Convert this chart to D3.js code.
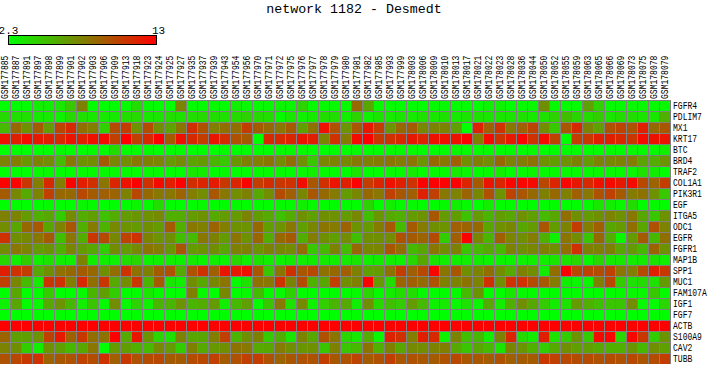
<!DOCTYPE html>
<html>
<head>
<meta charset="utf-8">
<script src="https://cdn.jsdelivr.net/npm/d3@7"></script>
<style>
  html, body { margin: 0; padding: 0; background: #fff; overflow: hidden; }
  text { font-family: "Liberation Mono", monospace; fill: #000; }
</style>
</head>
<body>
<div id="chart"></div>
<script>
/**
 * DATA
 * */
const title = "network 1182 - Desmedt";
const legendRange = [2.3, 13];
const legendLabels = ["2.3", "13"];

const samples = [
  "GSM177885","GSM177887","GSM177891","GSM177897","GSM177898","GSM177899","GSM177901","GSM177902","GSM177903","GSM177906","GSM177909",
  "GSM177913","GSM177918","GSM177923","GSM177924","GSM177925","GSM177927","GSM177935","GSM177937","GSM177939","GSM177943","GSM177954",
  "GSM177956","GSM177970","GSM177971","GSM177972","GSM177975","GSM177976","GSM177977","GSM177978","GSM177979","GSM177980","GSM177981",
  "GSM177982","GSM177985","GSM177993","GSM177999","GSM178003","GSM178006","GSM178009","GSM178010","GSM178013","GSM178017","GSM178021",
  "GSM178022","GSM178023","GSM178028","GSM178036","GSM178044","GSM178050","GSM178052","GSM178055","GSM178059","GSM178063","GSM178065",
  "GSM178066","GSM178069","GSM178073","GSM178075","GSM178078","GSM178079"
];

const genes = ["FGFR4","PDLIM7","MX1","KRT17","BTC","BRD4","TRAF2","COL1A1","PIK3R1","EGF","ITGA5","ODC1",
  "EGFR","FGFR1","MAP1B","SPP1","MUC1","FAM107A","IGF1","FGF7","ACTB","S100A9","CAV2","TUBB"];

// expression values per gene, one value for each sample
const FGFR4 = [2.3,2.4,2.4,3.0,3.0,3.3,4.6,7.6,2.4,2.3,2.4,2.5,3.8,2.5,2.4,2.3,7.4,2.4,2.5,2.5,2.4,3.0,
  2.6,2.5,2.6,2.8,2.7,4.2,2.5,2.5,2.6,2.5,8.6,6.0,2.5,2.4,2.4,2.4,2.4,2.5,2.6,2.4,2.4,
  2.4,2.9,2.9,2.4,2.5,2.6,7.0,2.5,2.4,2.4,6.2,4.2,2.5,2.5,2.6,2.6,2.5,2.6];
const PDLIM7 = [3.9,3.6,3.6,3.2,3.2,2.9,3.9,3.6,3.3,3.2,3.2,3.7,3.9,3.3,3.4,3.7,3.5,3.7,3.9,3.7,3.6,3.8,
  4.2,3.9,3.7,2.5,3.3,2.9,3.2,3.7,3.7,3.0,4.1,2.9,3.4,3.2,3.4,3.2,3.5,3.3,3.5,3.2,3.4,
  3.5,3.4,3.4,3.4,3.6,3.2,3.5,4.2,5.0,4.1,3.8,4.4,3.4,3.7,3.7,3.4,3.3,5.6];
const MX1 = [5.2,8.6,6.9,9.2,6.5,10.2,11.3,8.4,7.7,4.3,9.8,10.5,6.9,9.8,7.1,6.1,8.1,11.1,9.6,7.7,8.4,8.4,
  10.5,9.2,8.6,8.0,9.2,6.3,8.2,12.3,9.6,6.8,9.4,12.0,10.5,6.8,8.6,9.2,7.3,7.5,7.5,6.3,2.3,
  11.6,9.0,10.9,8.0,9.0,10.2,7.1,4.6,9.4,11.3,7.5,6.3,9.6,10.2,9.6,11.7,8.6,9.4];
const KRT17 = [12.3,11.7,12.5,11.9,11.7,11.3,12.1,11.7,12.3,12.6,10.3,13,10.3,11.3,13,9.2,12.3,11.3,10.5,12.1,11.1,9.6,
  9.2,2.3,11.3,11.3,11.5,12.1,11.7,7.3,10.9,7.8,12.5,13,10.7,10.9,11.3,12.0,11.5,12.3,12.3,12.3,13,
  7.7,12.5,10.8,11.9,12.8,10.9,12.6,10.2,2.3,10.5,10.7,11.7,11.7,11.3,10.7,12.5,12.3,12.1];
const BTC = [2.3,2.4,2.3,2.3,2.3,2.5,2.3,2.4,2.5,2.4,3.8,2.4,2.4,2.5,2.3,2.4,2.4,2.3,2.4,2.3,2.5,2.4,
  2.4,2.4,2.4,2.5,2.5,2.5,2.4,2.4,2.4,2.4,2.4,2.4,2.4,2.5,2.5,2.5,2.4,2.4,2.4,2.7,2.5,
  2.5,2.5,2.4,2.4,2.4,2.6,2.4,2.4,2.4,2.4,2.4,2.4,2.5,2.4,2.6,2.5,2.6,3.0];
const BRD4 = [7.5,7.7,6.7,7.5,7.1,5.2,8.0,6.9,7.1,9.2,7.3,7.1,8.0,7.6,7.4,6.5,7.1,6.1,6.5,5.4,4.6,6.7,
  7.6,7.7,8.1,7.1,8.4,6.9,4.7,7.4,7.5,7.3,8.0,7.6,7.8,8.1,7.8,8.1,6.8,8.6,8.0,9.0,7.1,
  7.6,7.1,8.6,7.5,7.8,8.2,6.9,6.4,6.9,7.6,6.5,7.5,7.3,7.5,7.7,6.1,5.8,6.8];
const TRAF2 = [2.3,2.4,2.3,2.6,2.6,2.4,2.4,2.5,2.5,2.5,2.5,2.5,2.4,2.6,2.5,2.4,2.4,3.3,3.1,2.4,2.5,2.4,
  2.4,2.5,2.5,2.5,2.4,2.6,3.0,2.5,2.4,2.4,3.4,2.4,2.4,2.6,2.5,3.2,2.5,2.5,2.5,3.2,2.7,
  2.4,2.5,3.0,2.4,2.5,2.8,2.5,2.5,2.6,2.5,2.6,2.7,2.6,2.5,2.7,3.6,3.1,2.4];
const COL1A1 = [13,12.9,10.7,7.7,11.3,7.7,13,11.8,11.0,8.1,11.4,12.3,13,11.0,12.6,11.8,13,11.1,11.5,11.9,10.7,11.5,
  13,10.5,11.1,10.7,10.9,12.5,9.4,11.0,12.2,11.7,13,10.5,11.5,12.3,11.7,10.9,13,13,12.9,13,11.5,
  9.2,12.1,11.5,12.8,12.8,12.6,10.0,11.5,12.8,12.0,11.3,12.3,12.6,12.0,12.6,10.0,8.8,10.5];
const PIK3R1 = [9.2,7.3,5.9,7.5,10.3,8.6,8.6,10.0,9.2,9.0,8.8,7.6,10.0,8.6,8.0,8.0,8.8,7.7,7.1,9.4,8.0,7.1,
  7.6,5.9,7.1,9.8,9.0,7.3,9.4,8.6,7.8,6.5,7.3,8.6,8.0,10.3,9.4,9.0,11.7,10.3,8.0,7.5,8.8,
  7.3,9.6,6.8,10.2,9.4,8.6,7.6,8.6,7.6,9.0,8.0,9.6,10.3,9.2,7.8,8.2,6.9,4.6];
const EGF = [2.3,2.4,2.3,2.4,2.5,2.3,2.3,2.7,2.5,2.3,2.3,2.4,2.7,2.5,3.7,2.4,2.3,2.4,2.6,2.4,2.4,2.5,
  2.4,2.4,2.4,2.5,2.5,3.0,2.5,2.4,2.4,2.4,2.4,4.1,2.4,3.0,2.5,2.6,2.4,2.4,2.5,3.0,2.5,
  2.3,3.0,2.4,2.4,2.4,2.4,2.4,2.4,2.3,2.4,2.5,3.3,3.0,2.6,3.8,2.4,2.5,2.4];
const ITGA5 = [7.6,7.5,6.5,5.6,6.0,4.4,7.1,5.8,6.3,4.9,5.8,6.5,6.7,6.9,7.2,5.6,5.8,6.5,6.9,5.9,6.5,6.5,
  7.5,6.4,5.9,4.9,5.8,6.9,6.3,7.0,6.9,6.5,7.3,5.0,6.7,5.9,5.6,6.5,6.9,9.4,6.5,6.4,4.9,
  6.5,5.4,6.4,6.0,6.9,6.3,5.2,6.0,8.4,7.0,6.5,7.0,7.5,6.9,8.0,6.0,4.7,6.9];
const ODC1 = [7.1,6.0,8.6,9.3,6.0,7.5,9.4,5.6,7.8,5.5,7.2,6.8,6.5,7.0,6.5,9.2,5.6,8.0,7.6,8.8,7.7,6.9,
  6.8,8.6,6.3,6.8,8.0,6.3,7.3,8.1,7.8,8.8,6.8,6.5,7.8,9.3,5.1,9.2,7.8,7.0,6.8,9.0,8.8,
  8.6,6.0,6.9,7.3,6.0,6.5,9.4,6.4,7.5,10.5,7.7,9.0,6.0,6.5,8.4,6.0,9.6,7.5];
const EGFR = [10.9,7.0,7.3,8.0,9.2,5.0,8.0,5.8,10.7,9.8,7.3,10.2,10.9,7.5,6.8,7.0,5.0,5.2,8.0,7.6,6.5,8.1,
  6.9,8.7,5.8,8.6,9.2,5.7,7.7,7.0,6.3,7.1,5.0,7.0,7.0,7.1,9.6,9.2,8.8,9.8,4.4,9.0,13,
  7.4,5.4,9.0,7.4,7.0,7.7,5.6,2.9,8.1,7.1,4.7,8.6,5.8,2.6,6.5,9.2,5.3,8.4];
const FGFR1 = [7.1,8.0,7.5,6.5,6.7,5.6,7.4,6.5,5.9,4.4,7.1,6.5,7.2,8.1,7.7,6.7,9.4,6.5,6.8,7.0,6.0,7.6,
  7.6,6.8,7.5,7.3,7.1,8.4,4.6,5.3,7.5,5.2,8.6,7.3,7.4,9.4,8.4,5.3,6.0,8.0,7.0,7.6,4.7,
  5.2,5.9,5.3,7.5,7.0,7.3,7.6,7.0,8.4,11.0,7.6,7.6,7.6,6.0,6.5,5.3,8.8,6.9];
const MAP1B = [4.0,3.0,4.4,3.0,3.5,3.0,2.9,7.5,3.0,3.0,2.9,3.7,4.0,2.9,3.0,3.0,2.8,3.2,2.8,3.0,2.8,4.0,
  3.0,3.5,3.0,2.9,3.1,3.0,3.1,3.2,3.0,3.2,3.4,3.0,3.1,3.0,2.9,4.0,6.0,3.5,3.0,3.0,3.0,
  3.1,2.8,2.8,2.7,2.9,3.0,3.0,3.4,3.5,4.0,2.7,4.0,3.2,3.2,3.0,3.1,3.5,3.0];
const SPP1 = [11.7,10.9,10.5,6.0,7.0,8.2,8.6,9.2,8.6,7.0,8.4,10.9,8.2,7.6,9.2,9.6,5.9,9.6,11.0,9.0,12.1,11.9,
  12.3,9.4,4.7,8.1,11.0,9.4,10.0,8.2,8.6,9.0,7.6,6.3,6.5,8.2,10.5,9.0,10.0,12.8,8.1,9.4,7.0,
  7.5,8.4,7.1,5.9,7.6,7.1,3.1,8.4,13,10.0,10.2,9.8,10.3,8.0,7.7,9.8,11.7,10.7];
const MUC1 = [10.3,7.4,5.2,3.2,10.8,10.9,7.7,11.3,8.4,10.7,5.9,7.1,10.7,5.4,9.2,3.4,3.0,7.0,6.0,7.3,8.1,2.5,
  3.5,8.2,8.0,10.9,7.5,9.8,5.6,6.0,10.3,7.1,7.6,13,6.5,3.8,8.8,9.0,8.5,9.6,7.6,7.5,8.2,
  7.5,11.0,7.0,10.9,10.9,9.8,9.3,7.8,3.0,2.7,2.7,7.6,10.0,4.4,3.5,3.8,3.5,6.5];
const FAM107A = [2.3,6.0,2.3,2.4,4.5,2.3,2.3,2.5,5.4,6.3,4.4,2.4,2.4,3.3,2.5,2.3,2.3,7.6,2.6,2.3,7.3,2.3,
  2.6,5.1,2.5,2.6,4.1,2.4,2.4,2.4,2.4,2.4,2.5,4.0,2.5,3.1,3.7,3.7,2.6,2.4,2.4,2.5,5.2,
  6.7,2.4,2.4,3.3,2.6,2.5,2.4,2.4,2.4,2.4,2.4,2.4,2.4,2.5,2.6,2.6,4.6,2.5];
const IGF1 = [2.9,6.0,2.4,2.6,5.9,6.8,5.3,3.0,4.7,2.5,7.1,2.6,4.1,2.9,5.4,5.4,6.8,5.4,5.8,6.5,3.0,5.3,
  6.3,2.4,4.7,8.0,3.5,7.2,2.9,4.3,5.4,5.9,3.0,7.0,3.8,5.0,4.5,6.5,5.2,2.8,3.2,2.6,3.5,
  2.7,5.9,3.0,5.6,7.0,6.0,4.5,3.1,3.5,6.5,5.6,5.0,4.7,4.7,7.1,2.6,2.4,4.0];
const FGF7 = [2.3,2.3,2.3,2.4,2.3,2.4,2.3,2.3,2.4,2.4,2.4,2.3,2.4,2.3,2.3,2.4,2.3,2.4,2.3,2.4,2.4,2.4,
  2.3,2.4,2.3,2.3,2.3,2.4,2.3,2.3,2.3,2.3,2.4,2.3,2.3,2.4,2.3,2.3,2.4,2.3,2.3,2.4,2.4,
  2.4,2.3,2.3,2.4,2.4,2.4,2.3,2.3,2.3,2.3,2.4,2.3,2.3,2.4,2.3,2.3,2.4,2.4];
const ACTB = [13,13,13,13,13,13,13,13,13,13,13,13,13,13,13,13,13,13,13,13,13,13,
  13,13,13,13,13,13,13,13,13,13,13,13,13,13,13,13,13,13,13,13,13,
  13,13,13,13,13,13,13,13,13,13,13,13,13,13,13,13,13,13];
const S100A9 = [8.8,6.3,6.3,6.8,10.3,12.0,9.0,10.7,8.4,8.2,13,5.9,12.1,6.8,4.0,3.5,7.5,6.0,6.0,7.7,10.3,5.5,
  7.0,7.6,4.5,5.7,3.4,7.5,6.0,9.6,8.1,4.0,3.2,5.8,2.6,11.6,11.0,7.7,11.7,11.3,2.8,7.5,5.0,
  5.3,3.0,7.5,11.5,3.8,3.1,11.7,3.5,4.4,6.8,4.4,12.6,12.8,4.0,12.8,10.7,4.4,6.8];
const CAV2 = [7.5,7.0,4.4,3.0,6.9,6.3,5.3,6.0,8.0,2.3,6.5,6.4,5.6,5.2,7.2,6.5,4.4,7.6,5.9,6.6,7.0,8.2,
  8.0,5.9,6.0,7.8,7.0,6.7,6.9,4.7,7.6,4.7,5.3,8.2,5.6,7.6,6.0,7.2,7.1,7.5,7.7,5.9,4.7,
  6.0,5.2,3.4,7.3,6.7,5.6,4.4,5.9,7.0,6.3,6.3,5.9,5.6,5.6,6.7,5.3,7.0,6.3];
const TUBB = [9.6,10.0,10.7,10.9,8.8,9.4,9.6,10.3,9.8,10.9,9.0,10.7,9.6,9.8,10.0,9.2,9.2,9.8,10.0,10.3,9.2,9.6,
  10.3,10.5,9.6,8.8,9.4,9.6,9.6,10.4,9.4,9.6,10.2,9.2,9.6,10.4,9.4,9.6,9.4,9.2,9.6,10.0,9.4,
  9.4,9.2,9.6,9.0,9.2,9.2,10.7,10.3,10.0,9.8,9.8,9.6,9.8,9.6,10.0,9.4,9.8,10.5];

const rows = [FGFR4,PDLIM7,MX1,KRT17,BTC,BRD4,TRAF2,COL1A1,PIK3R1,EGF,ITGA5,ODC1,
  EGFR,FGFR1,MAP1B,SPP1,MUC1,FAM107A,IGF1,FGF7,ACTB,S100A9,CAV2,TUBB];

/**
 * CONSTANTS
 * */
const width = 713,
  height = 365;

const svg = d3.select("#chart")
  .append("svg")
  .attr("width", width)
  .attr("height", height)
  .style("display", "block");

// each band is one cell plus the 1px grey line next to it
const x = d3.scaleBand().domain(samples).range([0, 671]);
const y = d3.scaleBand().domain(genes).range([100, 364]);
const color = d3.scaleLinear().domain(legendRange).range(["#00ff00", "#ff0000"]);

/**
 * TITLE AND LEGEND
 * */
svg.append("text")
  .attr("x", 354)
  .attr("y", 13)
  .attr("text-anchor", "middle")
  .style("font-size", "13.3px")
  .text(title);

const gradient = svg.append("defs").append("linearGradient").attr("id", "legend-gradient");
gradient.selectAll("stop")
  .data(legendRange)
  .join("stop")
  .attr("offset", (d, i) => i * 100 + "%")
  .attr("stop-color", d => color(d));

const legendX = d3.scaleLinear().domain(legendRange).range([8.5, 156.5]);

svg.append("rect")
  .attr("x", legendX(legendRange[0]))
  .attr("y", 35.5)
  .attr("width", legendX(legendRange[1]) - legendX(legendRange[0]))
  .attr("height", 9)
  .attr("fill", "url(#legend-gradient)")
  .attr("stroke", "#000");

svg.selectAll(".legend-label")
  .data(legendLabels)
  .join("text")
  .attr("class", "legend-label")
  .attr("x", (d, i) => legendX(legendRange[i]) + i * 2)
  .attr("y", 34)
  .attr("text-anchor", "middle")
  .style("font-size", "11px")
  .text(d => d);

/**
 * HEATMAP
 * */
svg.append("rect")
  .attr("x", 0)
  .attr("y", y.range()[0])
  .attr("width", x.range()[1])
  .attr("height", y.range()[1] - y.range()[0])
  .attr("fill", "#808080");

const rowGroups = svg.selectAll(".row")
  .data(rows)
  .join("g")
  .attr("class", "row")
  .attr("transform", (d, i) => `translate(0,${y(genes[i])})`);

rowGroups.selectAll("rect")
  .data(d => d)
  .join("rect")
  .attr("x", (d, i) => x(samples[i]))
  .attr("y", 1)
  .attr("width", x.bandwidth() - 1)
  .attr("height", y.bandwidth() - 1)
  .attr("fill", d => color(d))
  .attr("shape-rendering", "crispEdges");

/**
 * LABELS (squeezed to the narrow 5px cell of the original)
 * */
svg.selectAll(".sample")
  .data(samples)
  .join("text")
  .attr("class", "sample")
  .attr("transform", d => `translate(${x(d) + 8},99) rotate(-90) scale(0.73,1)`)
  .style("font-size", "11px")
  .text(d => d);

svg.selectAll(".gene")
  .data(genes)
  .join("text")
  .attr("class", "gene")
  .attr("transform", d => `translate(673,${y(d) + 9}) scale(0.73,1)`)
  .style("font-size", "11px")
  .text(d => d);
</script>
</body>
</html>
